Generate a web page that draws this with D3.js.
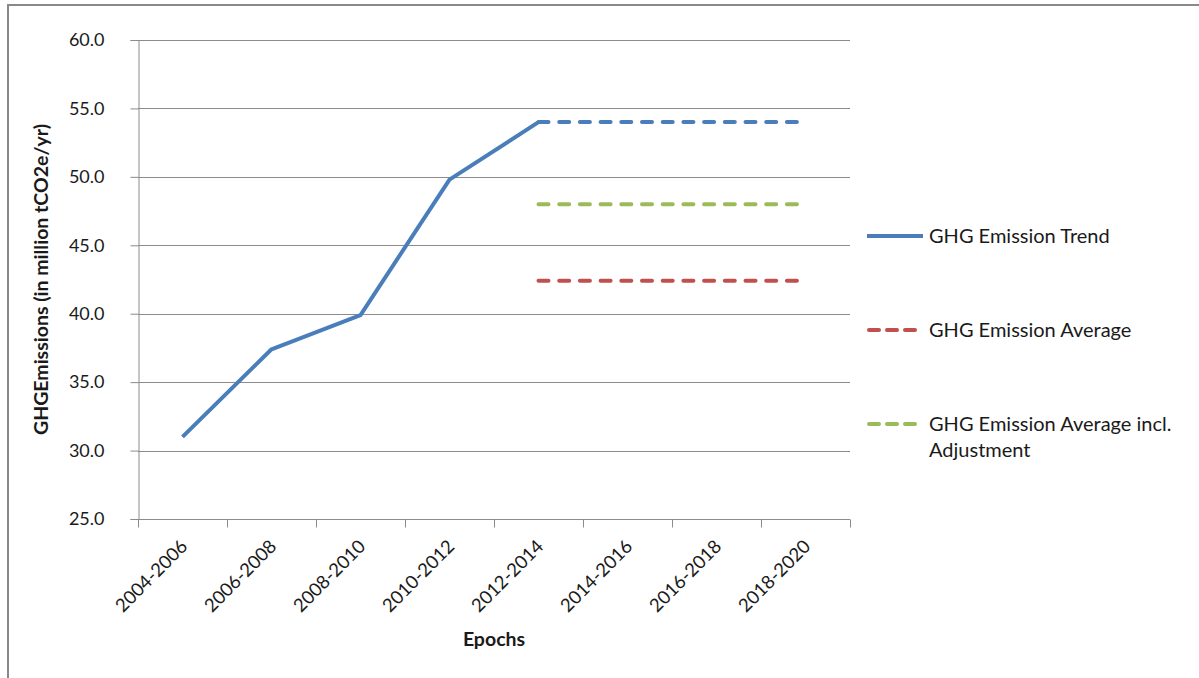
<!DOCTYPE html>
<html>
<head>
<meta charset="utf-8">
<script src="https://cdn.jsdelivr.net/npm/d3@7"></script>
<style>
  html, body { margin: 0; padding: 0; background: #fff; }
  svg { display: block; }
  text { font-family: Lato, "Open Sans", sans-serif; fill: #1a1a1a; }
</style>
</head>
<body>
<svg id="chart" width="1199" height="678"></svg>
<script>
// Epoch categories
const epochs = ["2004-2006", "2006-2008", "2008-2010", "2010-2012",
                "2012-2014", "2014-2016", "2016-2018", "2018-2020"];

// Measured emission trend (million tCO2e/yr)
const trendValues = [31.0, 37.4, 39.9, 49.8, 54.0];
// Trend held flat as projection from 2012-2014 onward
const trendProjection = [54.0, 54.0, 54.0, 54.0];
const projectionEpochs = ["2012-2014", "2014-2016", "2016-2018", "2018-2020"];
// Average levels over the projected epochs
const averageValues = [42.4, 42.4, 42.4, 42.4];
const adjustedAverageValues = [48.0, 48.0, 48.0, 48.0];

const yTicks = [25, 30, 35, 40, 45, 50, 55, 60];
const legendLabels = ["GHG Emission Trend", "GHG Emission Average",
                      "GHG Emission Average incl.|Adjustment"];

const svg = d3.select("#chart");

// Outer chart-area frame (top and left edges visible)
svg.append("line").attr("x1", 7).attr("x2", 1199).attr("y1", 5).attr("y2", 5)
  .attr("stroke", "#898989").attr("stroke-width", 2);
svg.append("line").attr("x1", 8).attr("x2", 8).attr("y1", 4).attr("y2", 678)
  .attr("stroke", "#898989").attr("stroke-width", 2);

const plot = { left: 138, right: 850, top: 40, bottom: 519 };

const x = d3.scaleBand().domain(epochs).range([plot.left, plot.right]).padding(0);
const y = d3.scaleLinear().domain([25, 60]).range([plot.bottom, plot.top]);
const cx = d => x(d) + x.bandwidth() / 2;

// Horizontal gridlines
svg.append("g")
  .selectAll("line").data(yTicks.filter(t => t > 25)).join("line")
  .attr("x1", plot.left).attr("x2", plot.right)
  .attr("y1", d => Math.round(y(d)) + 0.5).attr("y2", d => Math.round(y(d)) + 0.5)
  .attr("stroke", "#8c8c8c").attr("stroke-width", 1);

// Y axis
const yAxis = svg.append("g")
  .attr("transform", `translate(${plot.left + 0.5},0)`)
  .call(d3.axisLeft(y).tickValues(yTicks).tickFormat(d3.format(".1f"))
    .tickSize(8).tickPadding(26));
yAxis.select(".domain").attr("stroke", "#8c8c8c");
yAxis.selectAll(".tick line").attr("stroke", "#8c8c8c");
yAxis.selectAll(".tick text")
  .attr("font-size", 18).attr("font-family", "Lato, sans-serif").attr("fill", "#1a1a1a");

// X axis with ticks on category boundaries
const xAxisG = svg.append("g").attr("transform", `translate(0,${plot.bottom + 0.5})`);
xAxisG.append("line")
  .attr("x1", plot.left).attr("x2", plot.right).attr("y1", 0).attr("y2", 0)
  .attr("stroke", "#8c8c8c");
const boundaries = epochs.map(e => x(e)).concat([plot.right]);
xAxisG.selectAll("line.tk").data(boundaries).join("line").attr("class", "tk")
  .attr("x1", d => Math.round(d) + 0.5).attr("x2", d => Math.round(d) + 0.5)
  .attr("y1", 0).attr("y2", 8).attr("stroke", "#8c8c8c");
xAxisG.selectAll("text").data(epochs).join("text")
  .attr("transform", d => `translate(${cx(d) - 3},${19}) rotate(-45)`)
  .attr("text-anchor", "end")
  .attr("dy", "0.7em")
  .attr("font-size", 18.5)
  .text(d => d);

// Series lines
const line = d3.line().x(d => cx(d[0])).y(d => y(d[1]));
const series = [
  { pts: d3.zip(epochs.slice(0, trendValues.length), trendValues), color: "#4a7ebb", dash: null },
  { pts: d3.zip(projectionEpochs, trendProjection), color: "#4a7ebb", dash: "10,10.7" },
  { pts: d3.zip(projectionEpochs, adjustedAverageValues), color: "#9bbb59", dash: "10,10.7" },
  { pts: d3.zip(projectionEpochs, averageValues), color: "#c0504d", dash: "10,10.7" }
];
svg.append("g").selectAll("path").data(series).join("path")
  .attr("d", d => line(d.pts))
  .attr("fill", "none")
  .attr("stroke", d => d.color)
  .attr("stroke-width", 4)
  .attr("stroke-linecap", d => d.dash ? "round" : "butt")
  .attr("stroke-linejoin", "round")
  .attr("stroke-dasharray", d => d.dash);

// Axis titles
svg.append("text")
  .attr("transform", `translate(48,${(plot.top + plot.bottom) / 2}) rotate(-90)`)
  .attr("text-anchor", "middle")
  .attr("font-size", 19.5).attr("font-weight", "bold")
  .text("GHGEmissions  (in million tCO2e/yr)");
svg.append("text")
  .attr("x", 494).attr("y", 646)
  .attr("text-anchor", "middle")
  .attr("font-size", 19.5).attr("font-weight", "bold")
  .text("Epochs");

// Legend
const legendItems = [
  { label: legendLabels[0], color: "#4a7ebb", dash: null, y: 236 },
  { label: legendLabels[1], color: "#c0504d", dash: "10,8", y: 330 },
  { label: legendLabels[2], color: "#9bbb59", dash: "10,8", y: 424 }
];
const lg = svg.append("g").selectAll("g").data(legendItems).join("g")
  .attr("transform", d => `translate(0,${d.y})`);
lg.append("line")
  .attr("x1", d => d.dash ? 869 : 867).attr("x2", d => d.dash ? 921 : 923)
  .attr("y1", 0).attr("y2", 0)
  .attr("stroke", d => d.color).attr("stroke-width", 4)
  .attr("stroke-linecap", d => d.dash ? "round" : "butt")
  .attr("stroke-dasharray", d => d.dash);
lg.each(function(d) {
  const parts = d.label.split("|");
  const t = d3.select(this).append("text")
    .attr("x", 929).attr("y", 0)
    .attr("font-size", 20);
  parts.forEach((p, i) => {
    t.append("tspan").attr("x", 929).attr("dy", i === 0 ? "0.35em" : 26).text(p);
  });
});
</script>
</body>
</html>
